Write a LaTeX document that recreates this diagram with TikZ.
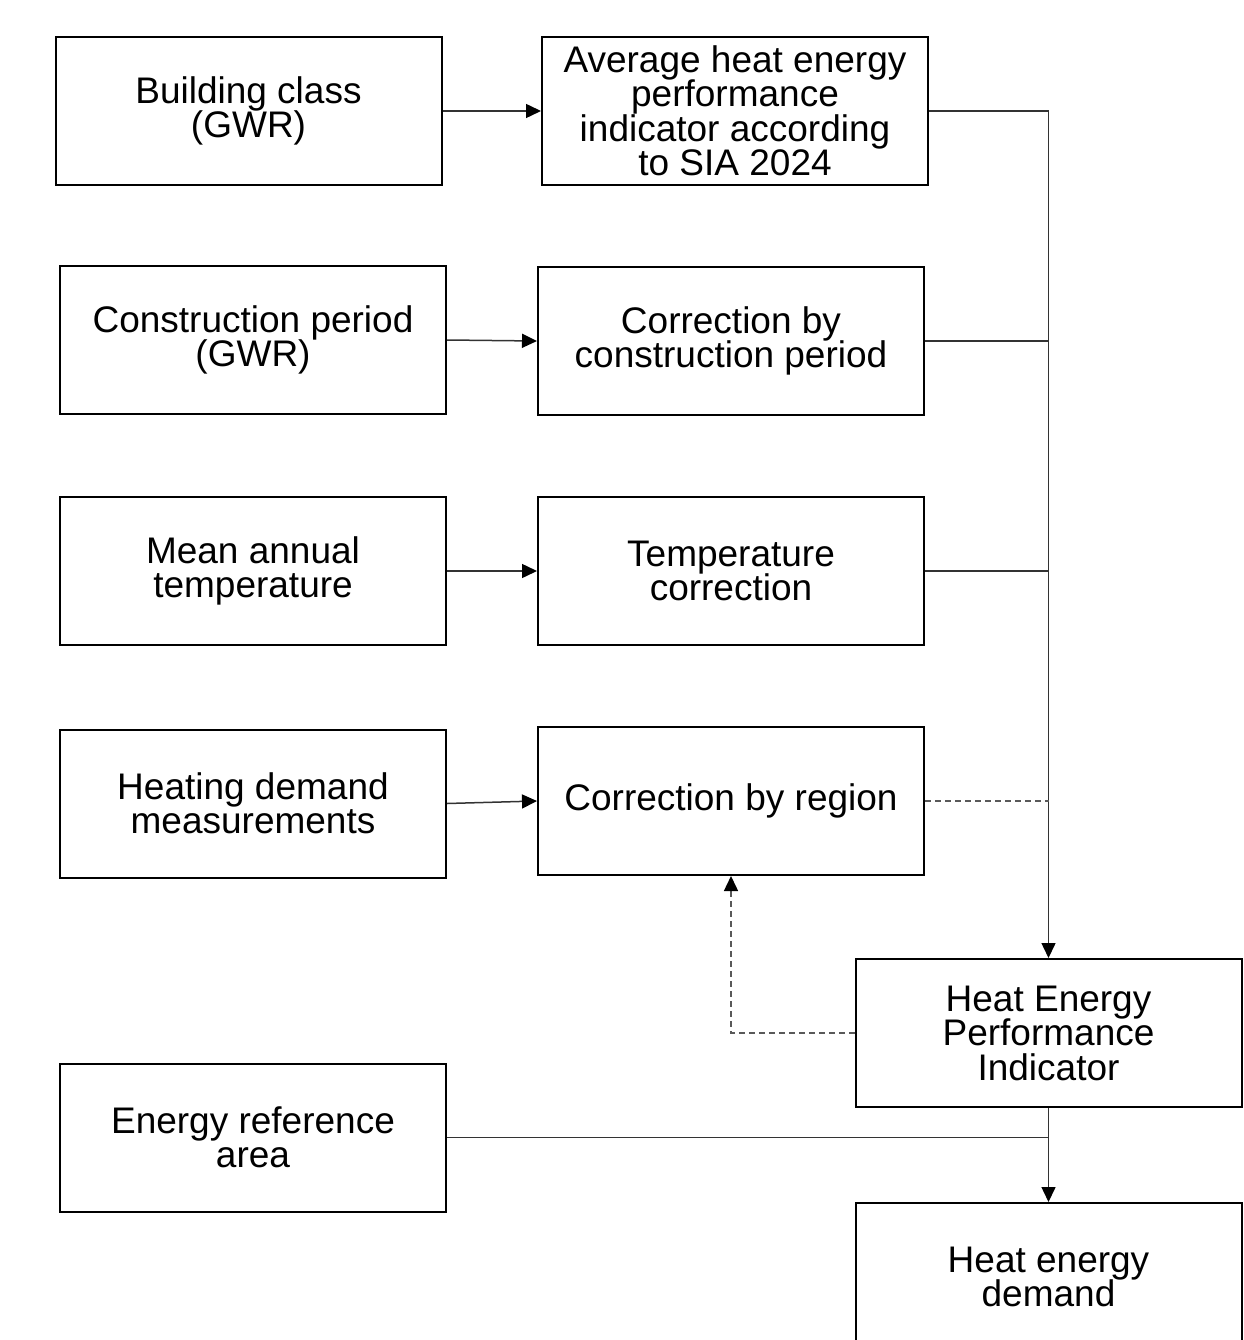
\documentclass[tikz,border=0pt]{standalone}
\usepackage{fontspec}
\setmainfont{Liberation Sans}
\usetikzlibrary{arrows.meta}
\begin{document}
\begin{tikzpicture}[x=1pt,y=-1pt,
  box/.style={draw=black,line width=2pt,minimum width=386pt,minimum height=148pt,
    align=center,inner sep=0pt,font=\fontsize{37}{34.5}\selectfont},
  conn/.style={draw=black!80,line width=1.5pt},
  tip/.style={-{Triangle[length=15pt,width=14pt,color=black]}},
  dsh/.style={dash pattern=on 6pt off 4pt,draw=black!65}]
\useasboundingbox (0,0) rectangle (1243,1340);
\clip (0,0) rectangle (1243,1340);
\node[box] (B1) at (248.5,111) {Building class\\(GWR)};
\node[box] (A1) at (735,111) {Average heat energy\\performance\\indicator according\\to SIA 2024};
\node[box] (B2) at (253,340) {Construction period\\(GWR)};
\node[box] (A2) at (731,341) {Correction by\\construction period};
\node[box] (B3) at (253,571) {Mean annual\\temperature};
\node[box] (A3) at (731,571) {Temperature\\correction};
\node[box] (B4) at (253,803.5) {Heating demand\\measurements};
\node[box] (A4) at (731,801) {Correction by region};
\node[box] (H) at (1048.5,1033) {Heat Energy\\Performance\\Indicator};
\node[box] (B5) at (253,1137.5) {Energy reference\\area};
\node[box] (D) at (1048.5,1277) {Heat energy\\demand};
\draw[conn,tip] (B1.east) -- (A1.west);
\draw[conn,tip] (B2.east) -- (A2.west);
\draw[conn,tip] (B3.east) -- (A3.west);
\draw[conn,tip] (B4.east) -- (A4.west);
\draw[conn,tip] (A1.east) -| (H.north);
\draw[conn] (A2.east) -- (A2.east -| H.north);
\draw[conn] (A3.east) -- (A3.east -| H.north);
\draw[conn,dsh] (A4.east) -- (A4.east -| H.north);
\draw[conn,dsh,tip] (H.west) -| (A4.south);
\draw[conn] (B5.east) -- (B5.east -| H.south);
\draw[conn,tip] (H.south) -- (D.north);
\end{tikzpicture}
\end{document}
